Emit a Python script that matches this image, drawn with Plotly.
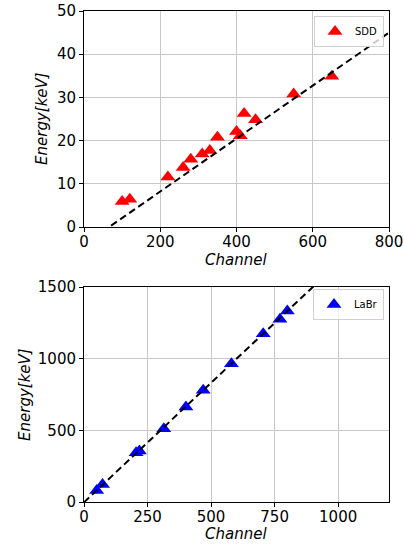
import numpy as np
import plotly.graph_objects as go

# SDD data
sdd_channel = [100, 120, 220, 260, 280, 310, 330, 350, 400, 410, 420, 450, 550, 650]
sdd_energy = [5.9, 6.4, 11.6, 13.8, 15.7, 16.9, 17.7, 20.8, 22.1, 21.1, 26.3, 24.8, 30.8, 34.9]
sdd_fit = (0.0613, -4.05)  # slope, intercept

# LaBr data
labr_channel = [50, 73, 205, 218, 314, 401, 469, 580, 705, 771, 800]
labr_energy = [81, 122, 344, 356, 511, 662, 779, 964, 1173, 1275, 1332]
labr_fit = (1.668, -2.0)

sdd_xrange = [0, 800]
sdd_yrange = [0, 50]
labr_xrange = [0, 1200]
labr_yrange = [0, 1500]

FONT = "DejaVu Sans"
W, H = 404, 546
# plot area in page pixels
LEFT, RIGHT, TOP, BOTTOM = 84, 389, 11, 502
ML, MR, MT, MB = LEFT, W - RIGHT, TOP, H - BOTTOM

fig = go.Figure()

fx = np.array(sdd_xrange, dtype=float)
fig.add_trace(go.Scatter(x=sdd_channel, y=sdd_energy, mode="markers", name="SDD",
                         marker=dict(symbol="triangle-up", size=13, color="red"),
                         xaxis="x", yaxis="y", legend="legend", cliponaxis=False))
fig.add_trace(go.Scatter(x=fx, y=sdd_fit[0] * fx + sdd_fit[1], mode="lines", showlegend=False,
                         line=dict(color="black", width=2, dash="7px,4px"),
                         xaxis="x", yaxis="y"))

gx = np.array(labr_xrange, dtype=float)
fig.add_trace(go.Scatter(x=labr_channel, y=labr_energy, mode="markers", name="LaBr",
                         marker=dict(symbol="triangle-up", size=13, color="blue"),
                         xaxis="x2", yaxis="y2", legend="legend2", cliponaxis=False))
fig.add_trace(go.Scatter(x=gx, y=labr_fit[0] * gx + labr_fit[1], mode="lines", showlegend=False,
                         line=dict(color="black", width=2, dash="7px,4px"),
                         xaxis="x2", yaxis="y2"))

axis_common = dict(showline=True, linecolor="black", linewidth=1, mirror=True,
                   ticks="outside", ticklen=4, tickcolor="black", automargin=False,
                   ticklabeloverflow="allow",
                   showgrid=True, gridcolor="#c8c8c8", gridwidth=1, zeroline=False,
                   tickfont=dict(family=FONT, size=15, color="black"))
title_font = dict(family=FONT, size=15, color="black")

ph = BOTTOM - TOP
pw = RIGHT - LEFT


def py(pix):
    return (BOTTOM - pix) / ph


def px(pix):
    return (pix - LEFT) / pw


top_dom = [py(227), 1.0]
bot_dom = [0.0, py(287)]

annotations = [
    dict(text="<i>Channel</i>", x=px(236), y=py(260), xref="paper", yref="paper",
         showarrow=False, font=title_font, xanchor="center", yanchor="middle"),
    dict(text="<i>Channel</i>", x=px(236), y=py(534), xref="paper", yref="paper",
         showarrow=False, font=title_font, xanchor="center", yanchor="middle"),
    dict(text="<i>Energy[keV]</i>", x=px(42), y=py(119), xref="paper", yref="paper",
         showarrow=False, font=title_font, xanchor="center", yanchor="middle", textangle=-90),
    dict(text="<i>Energy[keV]</i>", x=px(25), y=py(395), xref="paper", yref="paper",
         showarrow=False, font=title_font, xanchor="center", yanchor="middle", textangle=-90),
]

legend_common = dict(xanchor="right", yanchor="top", xref="paper", yref="paper",
                     bgcolor="rgba(255,255,255,0.8)", bordercolor="#d0d0d0", borderwidth=1,
                     font=dict(family=FONT, size=10, color="black"),
                     tracegroupgap=0, itemwidth=30)

fig.update_layout(
    width=W, height=H,
    margin=dict(l=ML, r=MR, t=MT, b=MB),
    paper_bgcolor="white", plot_bgcolor="white",
    xaxis=dict(**axis_common, range=sdd_xrange, dtick=200, anchor="y", domain=[0, 1],
               ticklabelstandoff=-3),
    yaxis=dict(**axis_common, range=sdd_yrange, dtick=10, anchor="x", domain=top_dom),
    xaxis2=dict(**axis_common, range=labr_xrange, dtick=250, anchor="y2", domain=[0, 1],
                ticklabelstandoff=-3),
    yaxis2=dict(**axis_common, range=labr_yrange, dtick=500, anchor="x2", domain=bot_dom),
    annotations=annotations,
    legend=dict(x=px(384), y=py(16), **legend_common),
    legend2=dict(x=px(384), y=py(289), **legend_common),
)

fig.write_html("out.html", config={"displayModeBar": False},
               post_script="document.body.style.margin='0';")
